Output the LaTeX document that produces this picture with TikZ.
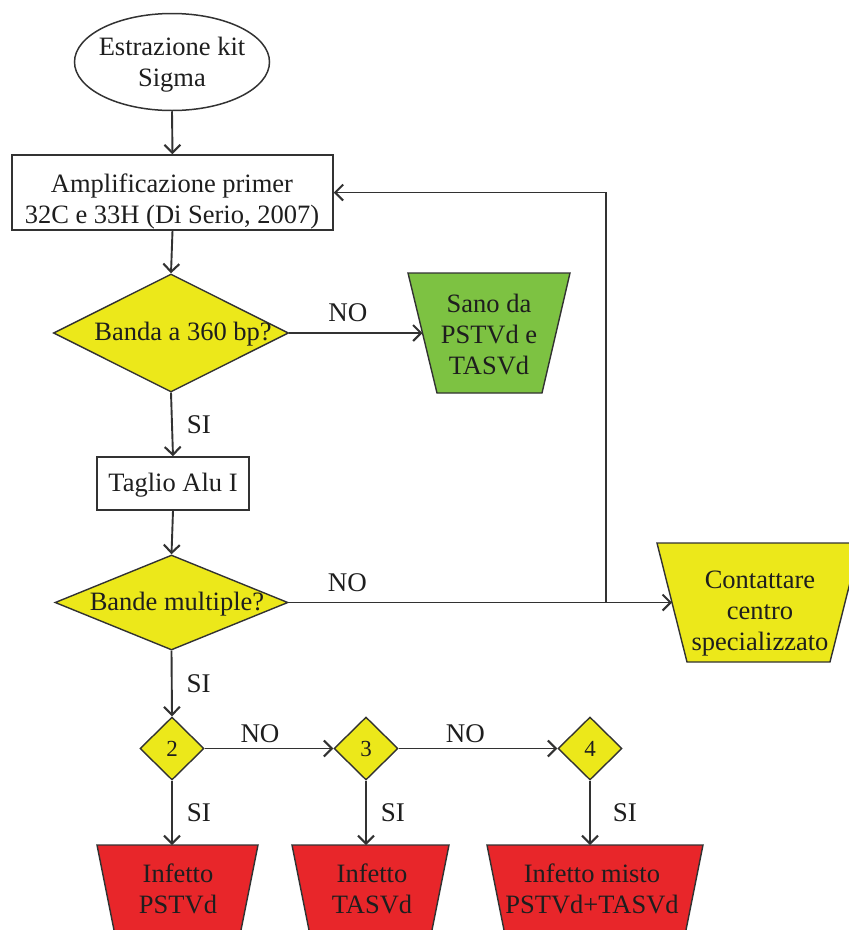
\documentclass[tikz,border=0pt]{standalone}
\usepackage{fontspec}
\setmainfont{Liberation Serif}
\usetikzlibrary{arrows.meta,shapes.geometric,calc}
\definecolor{yel}{RGB}{236,232,26}
\definecolor{grn}{RGB}{125,194,66}
\definecolor{rd}{RGB}{232,38,42}
\definecolor{linec}{RGB}{50,50,50}
\definecolor{txc}{RGB}{30,30,30}
\begin{document}
\begin{tikzpicture}[x=1pt,y=-1pt,
  every node/.style={font=\fontsize{26.5}{31}\selectfont, text=txc},
  lbl/.style={font=\fontsize{27}{31}\selectfont, inner sep=0pt},
  txt/.style={align=center, inner sep=0pt},
  box/.style={draw=linec, line width=1.5pt, fill=white, inner sep=0pt},
  dec/.style={diamond, draw=linec, line width=1.4pt, fill=yel, inner sep=0pt},
  small/.style={dec, minimum width=64pt, minimum height=63pt, font=\fontsize{23}{28}\selectfont},
  shp/.style={draw=linec, line width=1.4pt},
  arr/.style={draw=linec, line width=1.9pt, -{Straight Barb[length=8pt,width=16pt,line width=2.1pt]}},
]
\useasboundingbox (0,0) rectangle (849,930);
\clip (0,0) rectangle (849,930);

% start
\node[box, ellipse, minimum width=195pt, minimum height=97pt] (start) at (172,62) {};
\node[txt] (startT) at (172,65) {Estrazione kit\\Sigma};

% amplification box
\node[box, rectangle, minimum width=321pt, minimum height=75pt] (amp) at (172.5,192.5) {};
\node[txt] (ampT) at (172,201) {Amplificazione primer\\32C e 33H (Di Serio, 2007)};

% decision 1
\node[dec, minimum width=235pt, minimum height=118pt] (q1) at (171,333) {};
\node[txt] (q1T) at (183,334) {Banda a 360 bp?};

% healthy
\filldraw[shp, fill=grn] (408,273) -- (570,273) -- (542,393) -- (437,393) -- cycle;
\coordinate (gL) at (422.5,333);
\node[txt] (sano) at (489,334) {Sano da\\PSTVd e\\TASVd};

% cut
\node[box, rectangle, minimum width=152pt, minimum height=53pt] (tag) at (173,483.5) {};
\node[txt] (tagT) at (173,485) {Taglio Alu I};

% decision 2
\node[dec, minimum width=233pt, minimum height=95pt] (q2) at (171.5,602.5) {};
\node[txt] (q2T) at (177,604) {Bande multiple?};

% contact
\filldraw[shp, fill=yel] (657,543) -- (860,543) -- (830,662) -- (687,662) -- cycle;
\coordinate (cL) at (672,602.5);
\coordinate (jn) at (606,602.5);
\node[txt] (contT) at (760,614) {Contattare\\centro\\specializzato};

% small decisions
\node[small] (s2) at (172,748.5) {2};
\node[small] (s3) at (366,748.5) {3};
\node[small] (s4) at (590,748.5) {4};

% results
\filldraw[shp, fill=rd] (97,845) -- (258,845) -- (235,960) -- (120,960) -- cycle;
\filldraw[shp, fill=rd] (292,845) -- (449,845) -- (426,960) -- (315,960) -- cycle;
\filldraw[shp, fill=rd] (487,845) -- (703,845) -- (680,960) -- (510,960) -- cycle;
\coordinate (r1t) at (172,845);
\coordinate (r2t) at (366,845);
\coordinate (r3t) at (590,845);
\node[txt] (r1T) at (178,889) {Infetto\\PSTVd};
\node[txt] (r2T) at (372,889) {Infetto\\TASVd};
\node[txt] (r3T) at (592,889) {Infetto misto\\PSTVd+TASVd};

% connectors
\draw[arr] (start.south) -- (amp.north);
\draw[arr] (amp.south) -- (q1.north);
\draw[arr] (q1.east) -- node[lbl, pos=0.44, anchor=south, yshift=10pt] {NO} (gL);
\draw[arr] (q1.south) -- node[lbl, anchor=west, xshift=14pt] {SI} (tag.north);
\draw[arr] (tag.south) -- (q2.north);
\draw[arr] (q2.east) -- node[lbl, pos=0.153, anchor=south, yshift=10pt] {NO} (cL);
\draw[arr] (jn) |- (amp.east);
\draw[arr] (q2.south) -- node[lbl, anchor=west, xshift=14pt] {SI} (s2.north);
\draw[arr] (s2.east) -- node[lbl, pos=0.43, anchor=south, yshift=5pt] {NO} (s3.west);
\draw[arr] (s3.east) -- node[lbl, pos=0.42, anchor=south, yshift=5pt] {NO} (s4.west);
\draw[arr] (s2.south) -- node[lbl, anchor=west, xshift=14pt] {SI} (r1t);
\draw[arr] (s3.south) -- node[lbl, anchor=west, xshift=14pt] {SI} (r2t);
\draw[arr] (s4.south) -- node[lbl, anchor=west, xshift=22pt] {SI} (r3t);
\end{tikzpicture}
\end{document}
